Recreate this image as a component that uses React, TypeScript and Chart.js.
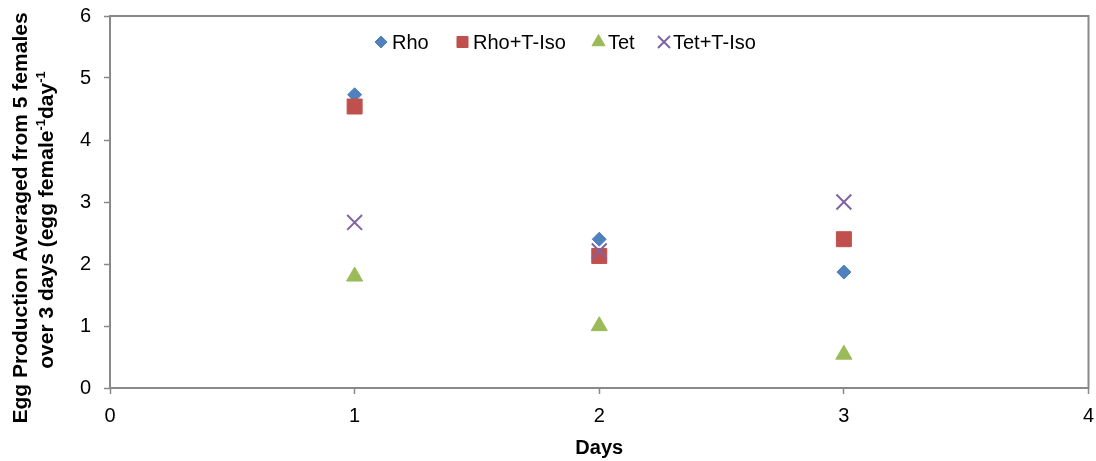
import React, { useEffect, useRef } from 'react';
import { Chart, registerables } from 'chart.js';
import { drawPoint } from 'chart.js/helpers';

Chart.register(...registerables);

// Egg production per treatment over three sampling days
const days = [1, 2, 3];
const rho = [4.73, 2.4, 1.87];
const rhoTIso = [4.54, 2.13, 2.4];
const tet = [1.8, 1.0, 0.54];
const tetTIso = [2.67, 2.21, 3.0];

const seriesNames = ['Rho', 'Rho+T-Iso', 'Tet', 'Tet+T-Iso'];
const seriesColors = ['#4F81BD', '#C0504D', '#9BBB59', '#8064A2'];
const seriesValues = [rho, rhoTIso, tet, tetTIso];

const xMin = 0;
const xMax = 4;
const yMin = 0;
const yMax = 6;

const xTitle = 'Days';
const yTitleLine1 = [{ t: 'Egg Production Averaged from 5 females' }];
const yTitleLine2 = [
  { t: 'over 3 days (egg female' },
  { t: '-1', sup: true },
  { t: 'day' },
  { t: '-1', sup: true },
];

const FONT = "'Liberation Sans', Arial, sans-serif";
const AXIS_GREY = '#898989';

// visible frame and the slightly wider drawing surface behind it
const VIEW_W = 1096;
const VIEW_H = 461;
const CANVAS_W = 1101;

// marker look for plot points and legend swatches
const markerStyles = [
  { pointStyle: 'rectRot', radius: 7, legendRadius: 6, borderWidth: 1 },
  { pointStyle: 'rect', radius: 10.6, legendRadius: 7.8, borderWidth: 1 },
  { pointStyle: 'triangle', radius: 9.3, legendRadius: 7.5, borderWidth: 1 },
  { pointStyle: 'crossRot', radius: 10.5, legendRadius: 8.5, borderWidth: 2 },
];

// legend swatch centre and label start, along the legend row
const legendSlots = [
  { marker: 381, text: 392 },
  { marker: 462.5, text: 473 },
  { marker: 598.5, text: 608 },
  { marker: 664, text: 673 },
];

type Seg = { t: string; sup?: boolean };

function drawRotatedLine(ctx: CanvasRenderingContext2D, segs: Seg[], baseX: number, centerY: number, size: number) {
  const main = `bold ${size}px ${FONT}`;
  const small = `bold ${Math.round(size * 0.62)}px ${FONT}`;
  let total = 0;
  const widths = segs.map((s) => {
    ctx.font = s.sup ? small : main;
    const w = ctx.measureText(s.t).width;
    total += w;
    return w;
  });
  ctx.save();
  ctx.translate(baseX, centerY);
  ctx.rotate(-Math.PI / 2);
  ctx.textAlign = 'left';
  ctx.textBaseline = 'alphabetic';
  ctx.fillStyle = '#000';
  let x = -total / 2;
  segs.forEach((s, i) => {
    ctx.font = s.sup ? small : main;
    ctx.fillText(s.t, x, s.sup ? -size * 0.38 : 0);
    x += widths[i];
  });
  ctx.restore();
}

const framePlugin = {
  id: 'frame',
  beforeDatasetsDraw(chart: any) {
    const { ctx, chartArea: a } = chart;
    ctx.save();
    ctx.strokeStyle = AXIS_GREY;
    ctx.lineWidth = 2;
    ctx.strokeRect(a.left, a.top, a.right - a.left, a.bottom - a.top);
    ctx.restore();
  },
};

const textPlugin = {
  id: 'texts',
  afterDraw(chart: any) {
    const { ctx, chartArea: a } = chart;
    // legend row
    ctx.save();
    seriesNames.forEach((name, i) => {
      const m = markerStyles[i];
      const slot = legendSlots[i];
      ctx.fillStyle = seriesColors[i];
      ctx.strokeStyle = seriesColors[i];
      ctx.lineWidth = m.borderWidth;
      drawPoint(ctx, { pointStyle: m.pointStyle, radius: m.legendRadius, borderWidth: m.borderWidth, rotation: 0 } as any, slot.marker, 42);
      ctx.fillStyle = '#000';
      ctx.font = `20px ${FONT}`;
      ctx.textAlign = 'left';
      ctx.textBaseline = 'alphabetic';
      ctx.fillText(name, slot.text, 49);
    });
    ctx.restore();

    // axis titles
    ctx.save();
    ctx.fillStyle = '#000';
    ctx.font = `bold 20px ${FONT}`;
    ctx.textAlign = 'center';
    ctx.textBaseline = 'alphabetic';
    ctx.fillText(xTitle, (a.left + a.right) / 2, 454);
    ctx.restore();

    drawRotatedLine(ctx, yTitleLine1, 27, 218, 21);
    drawRotatedLine(ctx, yTitleLine2, 53, 220, 21);
  },
};

export default function App() {
  const ref = useRef<HTMLCanvasElement | null>(null);

  useEffect(() => {
    if (!ref.current) return;
    const tickFont = { family: FONT, size: 20 };
    const chart = new Chart(ref.current, {
      type: 'scatter',
      data: {
        datasets: seriesNames.map((name, i) => ({
          label: name,
          data: days.map((d, j) => ({ x: d, y: seriesValues[i][j] })),
          backgroundColor: seriesColors[i],
          borderColor: seriesColors[i],
          pointStyle: markerStyles[i].pointStyle as any,
          pointRadius: markerStyles[i].radius,
          pointHoverRadius: markerStyles[i].radius,
          borderWidth: markerStyles[i].borderWidth,
          order: seriesNames.length - i,
        })),
      },
      options: {
        responsive: false,
        animation: false,
        layout: { padding: { top: 16, right: 8, left: 0, bottom: 0 } },
        plugins: {
          legend: { display: false },
          tooltip: { enabled: false },
        },
        scales: {
          x: {
            type: 'linear',
            min: xMin,
            max: xMax,
            ticks: { stepSize: 1, font: tickFont, color: '#000', padding: 10 },
            grid: { drawOnChartArea: false, drawTicks: true, tickLength: 6, tickColor: AXIS_GREY, tickWidth: 1.5 },
            border: { display: false },
            afterFit: (s: any) => {
              s.height = 73;
              s.paddingLeft = 0;
              s.paddingRight = 0;
            },
          },
          y: {
            type: 'linear',
            min: yMin,
            max: yMax,
            ticks: { stepSize: 1, font: tickFont, color: '#000', padding: 13 },
            grid: { drawOnChartArea: false, drawTicks: true, tickLength: 6, tickColor: AXIS_GREY, tickWidth: 1.5 },
            border: { display: false },
            afterFit: (s: any) => {
              s.width = 110;
              s.paddingTop = 0;
              s.paddingBottom = 0;
            },
          },
        },
      },
      plugins: [framePlugin, textPlugin],
    });
    return () => chart.destroy();
  }, []);

  return (
    <div
      style={{
        position: 'absolute',
        left: 0,
        top: 0,
        width: VIEW_W,
        height: VIEW_H,
        overflow: 'hidden',
        background: '#fff',
      }}
    >
      <canvas ref={ref} width={CANVAS_W} height={VIEW_H} style={{ display: 'block' }} />
    </div>
  );
}
